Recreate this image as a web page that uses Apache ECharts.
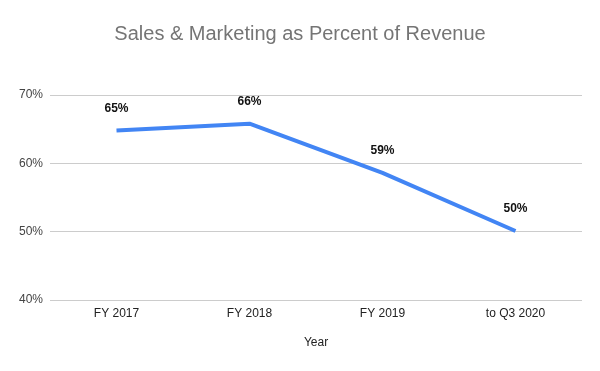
<!DOCTYPE html>
<html><head><meta charset="utf-8">
<script src="https://cdn.jsdelivr.net/npm/echarts@6/dist/echarts.min.js"></script>
<style>html,body{margin:0;padding:0;background:#fff}#c{width:600px;height:371px}</style>
</head><body><div id="c"></div>
<script>
const categories = ['FY 2017', 'FY 2018', 'FY 2019', 'to Q3 2020'];
const values = [64.8, 65.8, 58.6, 50.1];
const yTicks = [40, 50, 60, 70];

const chart = echarts.init(document.getElementById('c'), null, {renderer: 'canvas'});
chart.setOption({
  animation: false,
  textStyle: {fontFamily: 'Liberation Sans, Arial, sans-serif'},
  title: {
    text: 'Sales & Marketing as Percent of Revenue',
    left: 'center', top: 19,
    textStyle: {fontFamily: 'Liberation Sans, Arial, sans-serif', fontSize: 20, fontWeight: 'normal', color: '#757575'}
  },
  grid: {left: 50, right: 18, top: 95, bottom: 71, containLabel: false},
  xAxis: {
    type: 'category', data: categories, boundaryGap: true,
    name: 'Year', nameLocation: 'middle', nameGap: 37,
    nameTextStyle: {fontSize: 12, color: '#222'},
    axisLine: {show: false}, axisTick: {show: false},
    axisLabel: {fontSize: 12, color: '#222', margin: 8}
  },
  yAxis: {
    type: 'value', min: yTicks[0], max: yTicks[yTicks.length - 1], interval: 10,
    axisLine: {show: false}, axisTick: {show: false},
    axisLabel: {fontSize: 12, color: '#444', margin: 7, formatter: v => v + '%'},
    splitLine: {lineStyle: {color: '#cccccc', width: 1}}
  },
  series: [{
    type: 'line', data: values,
    symbol: 'circle', symbolSize: 0.1, showSymbol: true,
    lineStyle: {color: '#4285F4', width: 4},
    itemStyle: {color: '#4285F4'},
    label: {
      show: true, position: 'top', distance: 16,
      formatter: p => Math.round(p.value) + '%',
      fontSize: 12, fontWeight: 'bold', color: '#111'
    }
  }]
});
</script></body></html>
